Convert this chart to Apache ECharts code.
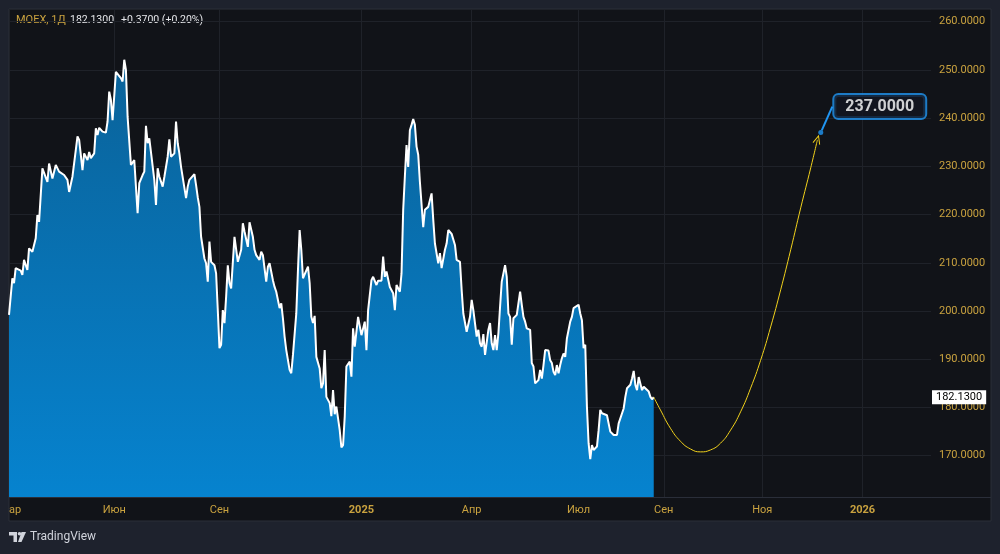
<!DOCTYPE html>
<html>
<head>
<meta charset="utf-8">
<title>MOEX, 1Д</title>
<script src="https://cdn.jsdelivr.net/npm/echarts@6/dist/echarts.min.js"></script>
<style>
	html, body { margin: 0; padding: 0; background: #1e222d; }
	#main { width: 1000px; height: 554px; }
</style>
</head>
<body>
<div id="main"></div>
<script>
// индекс бара и цена закрытия
var priceX = [0, 2, 3, 4, 7, 8, 9, 11, 12, 14, 16, 17, 18, 20, 21, 23, 24, 25, 26, 28, 30, 33, 35, 36, 38, 40, 41, 42, 43, 44, 45, 47, 48, 49, 51, 52, 53, 54, 56, 58, 59, 60, 61, 62, 63, 64, 65, 67, 68, 69, 70, 71, 73, 74, 75, 77, 78, 80, 81, 82, 83, 84, 85, 87, 88, 89, 90, 92, 93, 95, 96, 97, 99, 100, 101, 102, 103, 104, 106, 107, 108, 109, 111, 112, 113, 114, 115, 117, 118, 119, 120, 121, 123, 124, 125, 126, 127, 128, 129, 130, 131, 132, 133, 134, 135, 136, 137, 139, 140, 141, 142, 143, 144, 146, 147, 148, 149, 150, 151, 152, 154, 155, 156, 158, 159, 160, 162, 163, 164, 165, 166, 168, 169, 170, 172, 173, 174, 175, 176, 177, 179, 180, 181, 182, 183, 184, 186, 187, 188, 189, 190, 192, 193, 194, 195, 196, 198, 199, 200, 201, 202, 204, 205, 206, 207, 208, 209, 211, 212, 213, 214, 215, 217, 218, 219, 220, 221, 223, 224, 225, 226, 228, 229, 230, 231, 232, 234, 235, 236, 237, 238, 239, 240, 241, 242, 243, 244, 245, 246, 248, 249, 251, 253, 254, 255, 257, 258, 259, 261, 262, 263, 265, 266, 267, 268, 270, 271, 272, 274, 275, 276, 277, 278, 280, 281, 282, 283, 284, 285, 287, 288, 289, 290, 291, 292, 293, 294, 295, 296, 297, 298, 299, 300, 301, 302, 304, 305, 306, 307, 308, 309, 310, 312, 313, 314, 315, 317, 318, 319, 320, 321, 323, 324, 325, 326, 327, 328, 329, 330, 331, 332, 333, 334, 336, 337, 338, 339, 341, 342, 343, 344, 345, 346, 347, 348, 349, 350, 352, 353, 354, 355, 356, 358, 359, 360, 361, 362, 364, 365, 366, 368, 369, 370, 372, 373, 374, 375, 376, 377, 378, 379, 380, 381, 383, 384, 385, 386];
var priceY = [199.2, 206.8, 205.8, 208.9, 208.4, 207.5, 210.6, 208.5, 213.0, 212.3, 215.1, 219.9, 218.5, 229.6, 229.9, 226.8, 230.6, 230.3, 227.5, 230.3, 228.9, 228.2, 227.2, 224.7, 227.9, 233.4, 236.2, 235.5, 235.1, 229.2, 232.7, 231.3, 233.0, 231.7, 232.7, 237.9, 236.5, 238.0, 237.2, 237.0, 239.3, 245.5, 243.8, 239.6, 239.6, 249.6, 249.2, 248.3, 247.6, 252.1, 250.0, 240.3, 230.3, 229.9, 231.3, 220.3, 226.5, 228.2, 228.9, 238.4, 234.8, 235.8, 235.5, 227.2, 222.0, 229.6, 227.9, 225.8, 227.8, 232.0, 235.6, 232.0, 232.7, 239.3, 234.8, 232.7, 229.9, 230.1, 223.4, 225.8, 227.2, 226.8, 228.4, 226.1, 223.6, 221.6, 215.4, 210.9, 209.9, 206.1, 214.4, 210.2, 209.5, 207.8, 200.2, 192.3, 193.0, 200.2, 197.5, 203.0, 209.5, 205.8, 204.7, 204.5, 215.4, 215.6, 210.2, 212.7, 218.2, 216.5, 216.5, 213.3, 218.4, 215.4, 212.7, 211.6, 212.0, 210.6, 212.3, 211.6, 206.1, 209.2, 209.9, 206.4, 205.0, 204.0, 200.6, 201.6, 198.5, 194.7, 191.9, 187.8, 187.1, 190.9, 199.5, 208.5, 216.8, 212.7, 206.8, 207.1, 209.2, 205.8, 198.8, 197.5, 199.0, 190.5, 188.1, 184.0, 185.0, 191.9, 182.2, 180.9, 178.2, 183.6, 178.6, 180.2, 175.3, 171.7, 172.2, 178.1, 188.5, 189.5, 186.4, 196.4, 192.6, 192.6, 198.8, 195.0, 194.7, 197.8, 191.9, 200.2, 206.4, 207.1, 207.5, 205.4, 206.3, 206.3, 211.3, 207.1, 208.2, 205.0, 204.7, 203.7, 200.2, 205.4, 204.0, 207.8, 221.0, 227.9, 234.4, 229.9, 237.5, 238.6, 239.8, 238.6, 234.1, 232.4, 226.8, 217.4, 221.0, 221.6, 224.4, 218.9, 214.0, 209.9, 212.0, 208.9, 212.7, 214.0, 216.8, 216.0, 215.8, 213.7, 210.6, 210.2, 204.4, 199.5, 195.7, 196.1, 198.8, 202.3, 200.2, 194.7, 196.1, 193.3, 192.6, 195.2, 190.9, 196.1, 197.5, 193.3, 191.9, 195.0, 191.9, 195.4, 200.9, 206.1, 206.4, 209.5, 207.1, 199.5, 198.8, 193.0, 198.5, 199.2, 199.5, 204.0, 201.3, 198.8, 197.8, 196.4, 196.1, 189.2, 188.5, 185.0, 185.7, 187.8, 186.0, 188.8, 191.9, 191.8, 189.8, 189.2, 187.4, 186.7, 188.8, 187.1, 188.8, 190.2, 191.2, 190.5, 194.3, 197.8, 198.8, 200.6, 200.6, 201.3, 199.5, 198.1, 192.3, 193.0, 180.2, 172.6, 169.3, 172.2, 171.2, 171.9, 175.3, 179.5, 178.8, 179.1, 178.4, 178.8, 175.0, 175.3, 174.3, 174.3, 176.7, 177.1, 179.8, 182.2, 184.0, 184.7, 186.0, 187.6, 184.7, 183.6, 186.3, 186.0, 183.6, 184.3, 184.0, 183.3, 182.2, 181.7, 182.13];

// прогноз (жёлтая кривая)
var fcX = [386, 390, 396, 402, 408, 414, 420, 426, 432, 438, 444, 450, 456, 462, 468, 474, 480, 484];
var fcY = [182.13, 179.5, 175.7, 173.0, 171.4, 170.8, 171.2, 172.6, 175.3, 179.1, 184.0, 189.8, 196.7, 204.4, 212.7, 221.4, 229.7, 235.5];

var target = [486, 237];
var lastPrice = 182.13;

// подписи шкалы времени
var tickPos = [0, 63, 126, 211, 277, 341, 392, 451, 511];
var tickText = ['ар', 'Июн', 'Сен', '2025', 'Апр', 'Июл', 'Сен', 'Ноя', '2026'];

var gold = '#c9a23f';
var font = 'Roboto, "Noto Sans", sans-serif';

function zip(xs, ys) {
	var out = [];
	for (var i = 0; i < xs.length; i++) {
		out.push([xs[i], ys[i]]);
	};
	return out;
};

var fcData = zip(fcX, fcY);
var last = fcData.pop();
fcData.push({
	value: last,
	symbol: 'path://M0,10 L5,0 L10,10',
	symbolSize: [7, 8],
	symbolRotate: -16
});

var myChart = echarts.init(document.getElementById('main'));

var option = {
	backgroundColor: '#1e222d',
	animation: false,
	textStyle: { fontFamily: font },
	graphic: [{
		type: 'rect',
		z: -10,
		silent: true,
		shape: { x: 9, y: 9, width: 982, height: 512 },
		style: { fill: '#111318', stroke: '#2a2e39', lineWidth: 1 }
	}, {
		type: 'line',
		silent: true,
		shape: { x1: 931, y1: 497.5, x2: 991, y2: 497.5 },
		style: { stroke: '#2a2e39', lineWidth: 1 }
	}, {
		type: 'text',
		left: 16, top: 15,
		style: { text: 'MOEX, 1Д', fill: gold, font: '11px ' + font }
	}, {
		type: 'text',
		left: 70, top: 15,
		style: { text: '182.1300', fill: '#e6e7ea', font: '10.5px ' + font }
	}, {
		type: 'text',
		left: 121, top: 15,
		style: { text: '+0.3700 (+0.20%)', fill: '#e6e7ea', font: '10.5px ' + font }
	}, {
		// логотип TradingView
		type: 'group',
		left: 9, top: 531,
		children: [{
			type: 'polygon',
			shape: { points: [[0, 2], [8, 2], [8, 12], [4.5, 12], [4.5, 5.5], [0, 5.5]] },
			style: { fill: '#d1d4dc' }
		}, {
			type: 'circle',
			shape: { cx: 10.5, cy: 3.8, r: 1.8 },
			style: { fill: '#d1d4dc' }
		}, {
			type: 'polygon',
			shape: { points: [[12.5, 2], [17, 2], [12.5, 12], [9, 12]] },
			style: { fill: '#d1d4dc' }
		}, {
			type: 'text',
			x: 21, y: 7,
			style: { text: 'TradingView', fill: '#d1d4dc', font: '12px ' + font, verticalAlign: 'middle' }
		}]
	}],
	grid: {
		left: 9,
		right: 69,
		top: 9,
		bottom: 57,
		containLabel: false
	},
	xAxis: {
		type: 'value',
		min: 0,
		max: 552,
		axisLine: { show: true, lineStyle: { color: '#2a2e39', width: 1 } },
		axisTick: { show: false, customValues: tickPos },
		splitLine: { show: true, lineStyle: { color: '#1f2229', width: 1 } },
		axisLabel: {
			customValues: tickPos,
			alignMinLabel: 'left',
			margin: 8,
			color: gold,
			fontSize: 11,
			formatter: function(val) {
				var i = tickPos.indexOf(val);
				var t = i < 0 ? '' : tickText[i];
				return /^\d{4}$/.test(t) ? '{y|' + t + '}' : t;
			},
			rich: {
				y: { color: gold, fontSize: 11, fontWeight: 'bold' }
			}
		}
	},
	yAxis: {
		type: 'value',
		position: 'right',
		min: 161.44,
		max: 262.63,
		splitNumber: 10,
		axisLine: { show: false },
		axisTick: { show: false },
		splitLine: { show: true, lineStyle: { color: '#1f2229', width: 1 } },
		axisLabel: {
			showMinLabel: false,
			showMaxLabel: false,
			margin: 8,
			color: gold,
			fontSize: 11,
			formatter: function(val) {
				return val.toFixed(4);
			}
		}
	},
	series: [{
		type: 'line',
		data: zip(priceX, priceY),
		showSymbol: false,
		symbol: 'none',
		lineStyle: { color: '#ffffff', width: 2 },
		areaStyle: {
			origin: 'start',
			opacity: 1,
			color: new echarts.graphic.LinearGradient(0, 0, 0, 1, [
				{ offset: 0, color: '#0a6299' },
				{ offset: 1, color: '#0683cf' }
			])
		},
		markLine: {
			silent: true,
			symbol: ['none', 'none'],
			lineStyle: { color: 'rgba(0,0,0,0)', width: 0 },
			label: {
				show: true,
				position: 'end',
				distance: 1,
				formatter: lastPrice.toFixed(4),
				color: '#000',
				backgroundColor: '#ffffff',
				padding: [2, 4, 1, 4],
				fontSize: 11
			},
			data: [{ yAxis: lastPrice }]
		}
	}, {
		type: 'line',
		data: fcData,
		smooth: true,
		symbol: 'none',
		showSymbol: true,
		lineStyle: { color: '#f2d21b', width: 1 },
		itemStyle: { color: 'none', borderColor: '#f2d21b', borderWidth: 1 }
	}, {
		type: 'scatter',
		data: [target],
		symbolSize: 5,
		itemStyle: { color: '#2196f3' },
		label: {
			show: true,
			position: 'inside',
			formatter: function(p) {
				return p.value[1].toFixed(4);
			},
			color: '#ffffff',
			fontSize: 16,
			fontWeight: 'bold',
			backgroundColor: '#131722',
			borderColor: '#2196f3',
			borderWidth: 2,
			borderRadius: 4,
			padding: [4, 11, 3, 11]
		},
		labelLayout: { dx: 59, dy: -26 },
		labelLine: { show: true, lineStyle: { color: '#2196f3', width: 2 } }
	}]
};

myChart.setOption(option);
</script>
</body>
</html>
